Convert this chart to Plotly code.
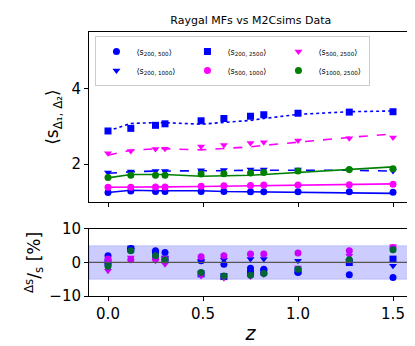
import plotly.graph_objects as go
from plotly.subplots import make_subplots

# redshifts of the snapshots
z = [0.0, 0.12, 0.25, 0.30, 0.49, 0.61, 0.75, 0.82, 1.0, 1.27, 1.5]

# data points (markers)
s200_500 = [1.25, 1.29, 1.28, 1.28, 1.28, 1.28, 1.27, 1.27, 1.27, 1.27, 1.26]
s200_1000 = [1.78, 1.81, 1.82, 1.82, 1.84, 1.85, 1.86, 1.86, 1.86, 1.85, 1.82]
s200_2500 = [2.88, 2.95, 3.03, 3.07, 3.15, 3.21, 3.27, 3.31, 3.35, 3.38, 3.39]
s500_1000 = [1.39, 1.39, 1.40, 1.40, 1.42, 1.43, 1.44, 1.45, 1.45, 1.46, 1.47]
s500_2500 = [2.29, 2.35, 2.40, 2.41, 2.47, 2.51, 2.56, 2.58, 2.63, 2.69, 2.71]
s1000_2500 = [1.65, 1.71, 1.71, 1.71, 1.74, 1.75, 1.77, 1.78, 1.82, 1.86, 1.88]

# model curves (lines)
m200_500 = [1.25, 1.31, 1.30, 1.30, 1.30, 1.28, 1.27, 1.26, 1.25, 1.24, 1.23]
m200_1000 = [1.76, 1.80, 1.82, 1.82, 1.83, 1.83, 1.84, 1.84, 1.85, 1.84, 1.82]
m200_2500 = [2.88, 3.08, 3.10, 3.10, 3.06, 3.10, 3.16, 3.21, 3.32, 3.39, 3.41]
m500_1000 = [1.39, 1.40, 1.40, 1.40, 1.41, 1.42, 1.43, 1.44, 1.45, 1.46, 1.48]
m500_2500 = [2.24, 2.37, 2.41, 2.41, 2.38, 2.41, 2.46, 2.50, 2.59, 2.71, 2.80]
m1000_2500 = [1.64, 1.73, 1.73, 1.73, 1.68, 1.69, 1.71, 1.73, 1.78, 1.86, 1.93]

# residuals in percent
r200_500 = [2.0, 4.2, 3.5, 3.0, 0.5, -0.5, -1.7, -2.0, -3.0, -3.7, -4.5]
r200_1000 = [-0.5, 3.8, 3.0, 1.5, 0.5, 0.8, 1.0, 1.0, 0.5, 0.5, -1.0]
r200_2500 = [0.0, 4.0, 2.5, 0.8, -3.4, -4.2, -3.2, -2.8, -2.5, 0.0, 1.0]
r500_1000 = [1.0, 0.8, 1.0, 1.0, 1.7, 2.0, 2.5, 2.5, 2.8, 3.5, 4.5]
r500_2500 = [-2.5, 1.5, 0.5, -0.5, -4.0, -4.7, -4.2, -3.6, -1.5, 2.0, 4.8]
r1000_2500 = [-1.1, 3.5, 2.0, 0.7, -3.0, -4.0, -3.8, -3.3, -2.0, 0.8, 3.8]

series = [
    ("⟨s<sub>200, 500</sub>⟩", s200_500, m200_500, r200_500, "#0000ff", "circle", "solid", 1),
    ("⟨s<sub>200, 1000</sub>⟩", s200_1000, m200_1000, r200_1000, "#0000ff", "triangle-down", "dash", 4),
    ("⟨s<sub>200, 2500</sub>⟩", s200_2500, m200_2500, r200_2500, "#0000ff", "square", "dot", 2),
    ("⟨s<sub>500, 1000</sub>⟩", s500_1000, m500_1000, r500_1000, "#ff00ff", "circle", "solid", 5),
    ("⟨s<sub>500, 2500</sub>⟩", s500_2500, m500_2500, r500_2500, "#ff00ff", "triangle-down", "dash", 3),
    ("⟨s<sub>1000, 2500</sub>⟩", s1000_2500, m1000_2500, r1000_2500, "#008000", "circle", "solid", 6),
]

fig = make_subplots(rows=2, cols=1, shared_xaxes=False)

for name, pts, model, res, col, sym, dash, rank in series:
    fig.add_trace(go.Scatter(x=z, y=model, mode="lines", showlegend=False,
                             line=dict(color=col, width=1.6, dash=dash)), row=1, col=1)
    fig.add_trace(go.Scatter(x=z, y=pts, mode="markers", name=name, legendrank=rank,
                             marker=dict(color=col, symbol=sym, size=7)), row=1, col=1)
    fig.add_trace(go.Scatter(x=z, y=res, mode="markers", showlegend=False,
                             marker=dict(color=col, symbol=sym, size=7)), row=2, col=1)

# +-5% band drawn above the markers like the original
fig.add_shape(type="rect", xref="x2 domain", yref="y2", x0=0, x1=1, y0=-5, y1=5,
              fillcolor="rgba(0,0,255,0.2)", line=dict(color="rgba(0,0,255,0.15)", width=1),
              layer="above")
fig.add_shape(type="line", xref="x2 domain", yref="y2", x0=0, x1=1, y0=0, y1=0,
              line=dict(color="#555555", width=1.3), layer="above")

axis_style = dict(showline=True, linecolor="black", linewidth=1, mirror=True,
                  ticks="outside", ticklen=4, tickcolor="black", showgrid=False,
                  zeroline=False, automargin=False, tickfont=dict(size=15, color="black"))

fig.update_xaxes(axis_style)
fig.update_yaxes(axis_style)
fig.update_xaxes(range=[-0.1, 1.6], tickvals=[0, 0.5, 1.0, 1.5], showticklabels=False,
                 domain=[0, 1], row=1, col=1)
fig.update_xaxes(range=[-0.1, 1.6], tickvals=[0, 0.5, 1.0, 1.5], ticktext=["0.0", "0.5", "1.0", "1.5"],
                 domain=[0, 1], row=2, col=1,
                 title=dict(text="<i>z</i>", font=dict(size=19, color="black"), standoff=4))
fig.update_yaxes(range=[1.0, 5.5], tickvals=[2, 4], domain=[0.356, 1], row=1, col=1,
                 title=dict(text="⟨s<sub>Δ₁, Δ₂</sub>⟩", font=dict(size=17, color="black"), standoff=8))
fig.update_yaxes(range=[-10, 10], tickvals=[-10, 0, 10], domain=[0, 0.254], row=2, col=1,
                 title=dict(text="<sup>Δs</sup>/<sub>s</sub> [%]", font=dict(size=17, color="black"), standoff=4))

fig.update_layout(
    width=415, height=346,
    margin=dict(l=81, r=11, t=24, b=58),
    paper_bgcolor="white", plot_bgcolor="white",
    font=dict(family="DejaVu Sans", color="black"),
    title=dict(text="Raygal MFs vs M2Csims Data", x=0.585, xanchor="center", y=0.965,
               yanchor="middle", font=dict(size=11, color="black")),
    legend=dict(orientation="h", x=0.02, y=0.985, xanchor="left", yanchor="top",
                entrywidth=46, entrywidthmode="pixels", traceorder="normal",
                font=dict(size=8, color="black"), bgcolor="rgba(255,255,255,0.85)",
                bordercolor="#cccccc", borderwidth=1, itemwidth=30, tracegroupgap=0),
)

fig.write_html("out.html")
